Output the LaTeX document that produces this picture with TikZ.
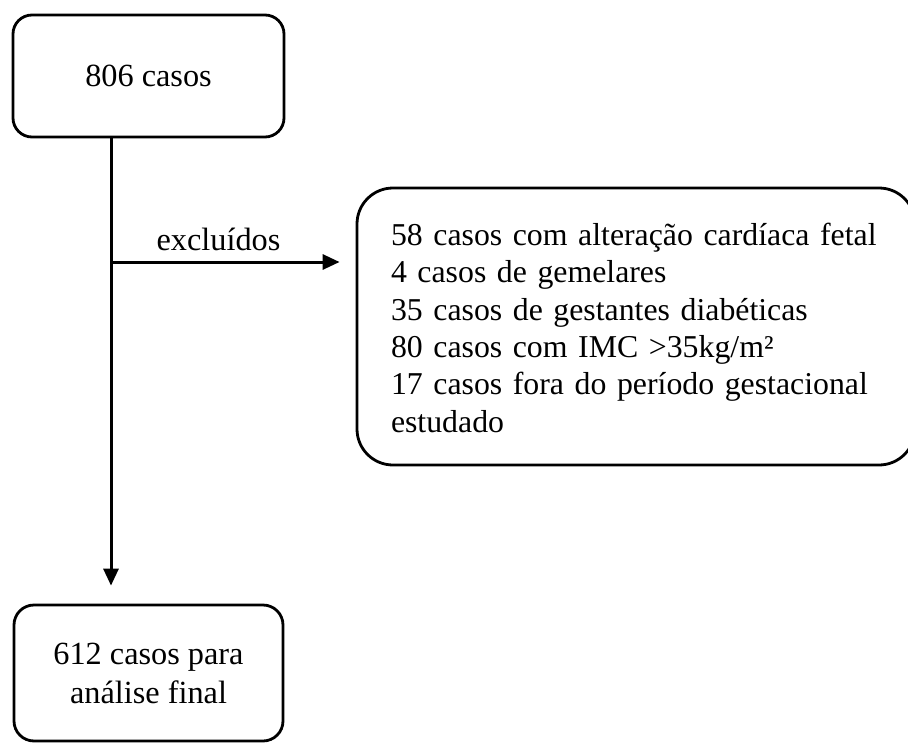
\documentclass[tikz,border=0pt]{standalone}
\usepackage{fontspec}
\setmainfont{Liberation Serif}
\usetikzlibrary{arrows.meta}
\tikzset{
  box/.style={draw=black, line width=2.8pt, rectangle, inner sep=0pt,
    font=\fontsize{32.3}{37.1}\selectfont},
  conn/.style={draw=black, line width=3pt, -{Triangle[length=17pt,width=15pt]}},
  lbl/.style={inner sep=0pt, font=\fontsize{32.3}{37.1}\selectfont}
}
\begin{document}
\begin{tikzpicture}[x=1pt,y=-1pt]
\useasboundingbox (0,0) rectangle (908,744);
\node[box, rounded corners=19pt, minimum width=271pt, minimum height=122pt] (top) at (148.5,76) {806 casos};
\node[box, rounded corners=20pt, minimum width=269pt, minimum height=136pt, align=center,
  font=\fontsize{32.3}{39}\selectfont] (bot) at (148.5,673) {612 casos para\\análise final};
\node[box, rounded corners=36pt, minimum height=277pt, align=left,
  font=\fontsize{31.8}{37.4}\selectfont,
  text width=490pt, inner xsep=34pt] (excl) at (636,326.5)
  {\mbox{\rule{0pt}{36pt}58 casos com alteração cardíaca fetal}\\
   \mbox{4 casos de gemelares}\\
   \mbox{35 casos de gestantes diabéticas}\\
   \mbox{80 casos com IMC >35kg/m²}\\
   \mbox{17 casos fora do período gestacional}\\
   \mbox{estudado}\strut};
\coordinate (vx) at (111,0);
\coordinate (hy) at (0,262);
\coordinate (split) at (111,262);
\draw[conn] (top.south -| vx) -- ([yshift=18pt]bot.north -| vx);
\draw[conn] (split) -- ([xshift=-16pt]excl.west |- hy);
\node[lbl, anchor=base] (exc) at (218.5,250) {excluídos};
\end{tikzpicture}
\end{document}
